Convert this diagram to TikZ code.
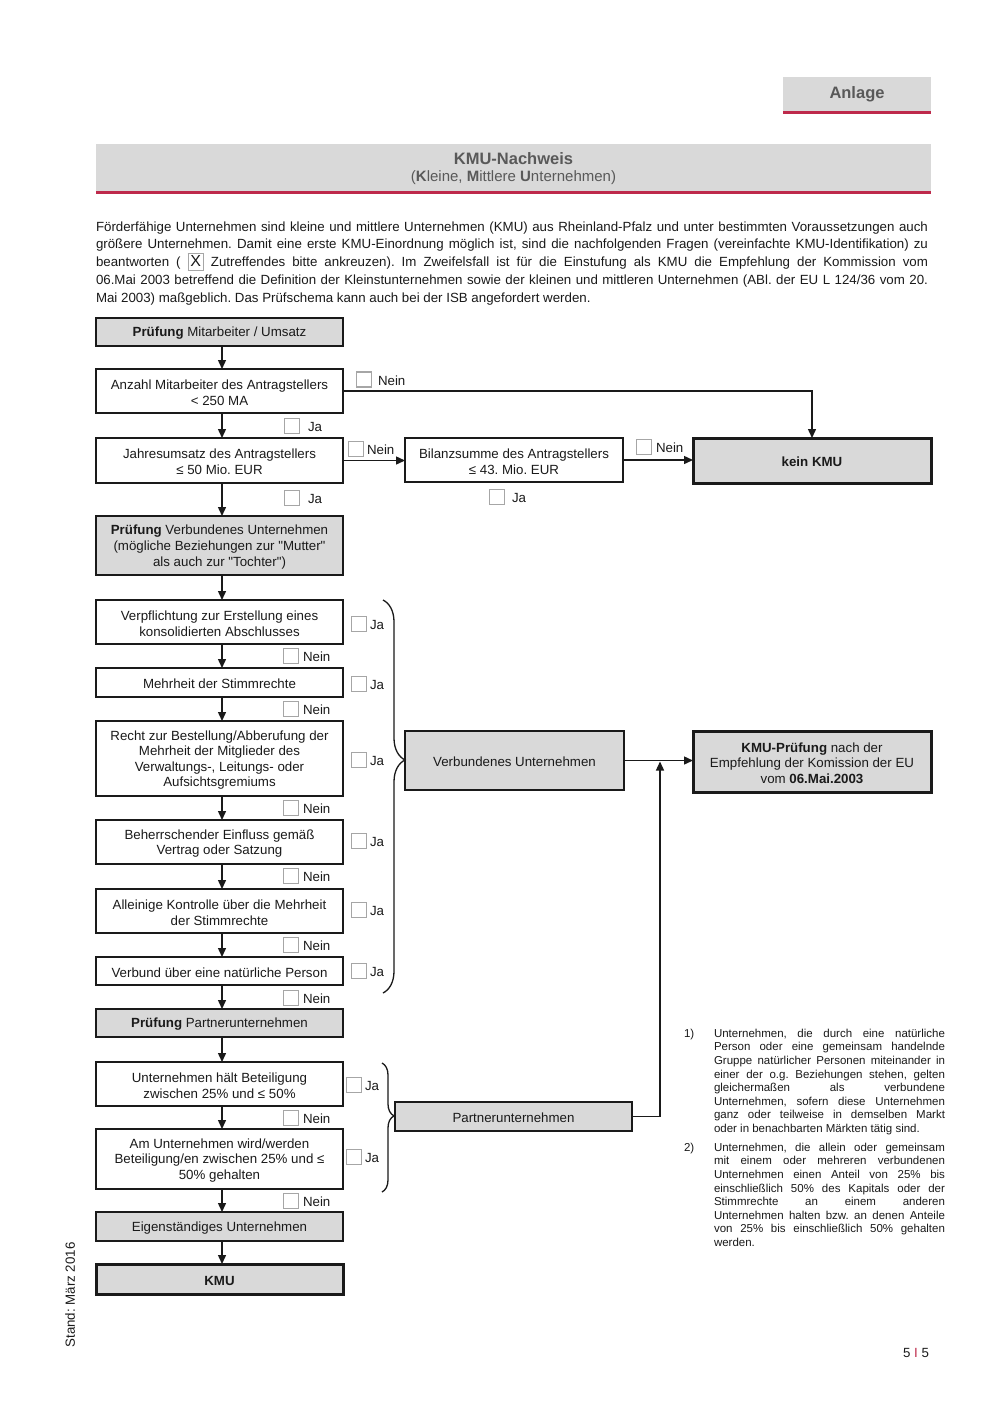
\documentclass[tikz,border=0pt]{standalone}
\usepackage{fontspec}
\setmainfont{Liberation Sans}[Ligatures=TeXOff]
\usetikzlibrary{arrows.meta,decorations.pathreplacing,calc}
\definecolor{boxfill}{HTML}{D9D9D9}
\definecolor{accent}{HTML}{BE2A4B}
\definecolor{titlegray}{HTML}{595959}
\definecolor{cbgray}{HTML}{A6A6A6}
\definecolor{ink}{HTML}{1A1A1A}
\newcommand\cbx[5]{\node[cb] (#1) at (#2,#3) {}; \node[lbl] (#1l) at (#4,#3+1) {#5};}
% box: name, style, x, y, width, height, text
\newcommand\bxn[7]{\node[#2, minimum width=#5pt, minimum height=#6pt] (#1) at (#3,#4) {}; \node[txt] (#1t) at (#3,#4+1.5) {#7};}
\newcommand\xbox{{\setlength{\fboxsep}{0.8pt}\setlength{\fboxrule}{1.3pt}\fcolorbox{cbgray}{white}{\rule[-2.5pt]{0pt}{14pt}\makebox[12pt]{\fontsize{16}{16}\selectfont X}}}}
\frenchspacing
\begin{document}
\begin{tikzpicture}[x=1pt,y=-1pt,
  every node/.style={inner sep=0pt, outer sep=0pt, text=ink},
  bx/.style={draw=ink, line width=1.5pt},
  gbx/.style={bx, fill=boxfill},
  tbx/.style={bx, fill=boxfill, line width=3pt},
  txt/.style={align=center, font=\fontsize{13.3}{15.6}\selectfont},
  cb/.style={draw=cbgray, line width=1.3pt, minimum size=15pt, fill=white},
  lbl/.style={anchor=west, font=\fontsize{13.3}{15.6}\selectfont},
  arr/.style={line width=1.4pt, draw=ink, -{Triangle[length=9pt,width=8pt]}},
  bra/.style={line width=1.3pt, draw=ink, decorate, decoration={brace, amplitude=22pt, aspect=0.407}},
  brb/.style={line width=1.3pt, draw=ink, decorate, decoration={brace, amplitude=12pt, aspect=0.41}}
]
\fill[white] (0,0) rectangle (1000,1414);
\useasboundingbox (0,0) rectangle (1000,1414);

% header
\node[fill=boxfill, minimum width=148pt, minimum height=35pt] (anl) at (857,94.5) {};
\node[font=\bfseries\fontsize{16.5}{18}\selectfont, text=titlegray] (anlt) at (857,94.5) {Anlage};
\draw[accent, line width=3pt] (anl.south west) -- (anl.south east);

\node[fill=boxfill, minimum width=835pt, minimum height=48pt] (tit) at (513.5,168) {};
\node[font=\bfseries\fontsize{16.5}{18}\selectfont, text=titlegray] (tit1) at (513.5,159) {KMU-Nachweis};
\node[font=\fontsize{15}{17}\selectfont, text=titlegray] (tit2) at (513.5,177.5) {(\textbf{K}leine, \textbf{M}ittlere \textbf{U}nternehmen)};
\draw[accent, line width=3pt] (tit.south west) -- (tit.south east);

% intro
\node[anchor=north west, text width=832pt, align=justify, font=\fontsize{13.3}{17.8}\selectfont] (intro) at (96,221.5) {Förderfähige Unternehmen sind kleine und mittlere Unternehmen (KMU) aus Rheinland-Pfalz und unter bestimmten Voraussetzungen auch\linebreak
größere Unternehmen. Damit eine erste KMU-Einordnung möglich ist, sind die nachfolgenden Fragen (vereinfachte KMU-Identifikation) zu\linebreak
beantworten ( \xbox{} Zutreffendes bitte ankreuzen). Im Zweifelsfall ist für die Einstufung als KMU die Empfehlung der Kommission vom\linebreak
06.Mai 2003 betreffend die Definition der Kleinstunternehmen sowie der kleinen und mittleren Unternehmen (ABl. der EU L 124/36 vom 20.\linebreak
Mai 2003) maßgeblich. Das Prüfschema kann auch bei der ISB angefordert werden.};

% left column
\bxn{p1}{gbx}{219.5}{332}{247}{28}{\textbf{Prüfung} Mitarbeiter / Umsatz}
\bxn{n2}{bx}{219.5}{391}{247}{44}{Anzahl Mitarbeiter des Antragstellers\\< 250 MA}
\bxn{n3}{bx}{219.5}{460.5}{247}{45}{Jahresumsatz des Antragstellers\\≤ 50 Mio. EUR}
\bxn{p2}{gbx}{219.5}{545.5}{247}{59}{\textbf{Prüfung} Verbundenes Unternehmen\\(mögliche Beziehungen zur "Mutter"\\als auch zur "Tochter")}
\bxn{n5}{bx}{219.5}{622}{247}{44}{Verpflichtung zur Erstellung eines\\konsolidierten Abschlusses}
\bxn{n6}{bx}{219.5}{682.5}{247}{29}{Mehrheit der Stimmrechte}
\bxn{n7}{bx}{219.5}{758.5}{247}{75}{Recht zur Bestellung/Abberufung der\\Mehrheit der Mitglieder des\\Verwaltungs-, Leitungs- oder\\Aufsichtsgremiums}
\bxn{n8}{bx}{219.5}{842}{247}{44}{Beherrschender Einfluss gemäß\\Vertrag oder Satzung}
\bxn{n9}{bx}{219.5}{911}{247}{44}{Alleinige Kontrolle über die Mehrheit\\der Stimmrechte}
\bxn{n10}{bx}{219.5}{971}{247}{28}{Verbund über eine natürliche Person}
\bxn{p3}{gbx}{219.5}{1023}{247}{28}{\textbf{Prüfung} Partnerunternehmen}
\bxn{n12}{bx}{219.5}{1084}{247}{44}{Unternehmen hält Beteiligung\\zwischen 25\% und ≤ 50\%}
\bxn{n13}{bx}{219.5}{1159}{247}{60}{Am Unternehmen wird/werden\\Beteiligung/en zwischen 25\% und ≤\\50\% gehalten}
\bxn{p4}{gbx}{219.5}{1226.5}{247}{29}{Eigenständiges Unternehmen}
\bxn{kmu}{tbx}{219.5}{1279}{247}{30}{\textbf{KMU}}

% right column
\bxn{bil}{bx}{514}{460}{218}{44}{Bilanzsumme des Antragstellers\\≤ 43. Mio. EUR}
\bxn{kein}{tbx}{812}{460.5}{238}{45}{\textbf{kein KMU}}
\bxn{verb}{gbx}{514.5}{760.5}{219}{59}{Verbundenes Unternehmen}
\bxn{pruef}{tbx}{812}{761.5}{238}{61}{\textbf{KMU-Prüfung} nach der\\Empfehlung der Komission der EU\\vom \textbf{06.Mai.2003}}
\bxn{partner}{gbx}{513.5}{1116.5}{237}{29}{Partnerunternehmen}

% arrows
\coordinate (ax) at (222,0);
\foreach \a/\b in {p1/n2, n2/n3, n3/p2, p2/n5, n5/n6, n6/n7, n7/n8, n8/n9, n9/n10, n10/p3, p3/n12, n12/n13, n13/p4, p4/kmu}
  \draw[arr] (\a.south -| ax) -- (\b.north -| ax);
\draw[arr] (n2.east) -| (kein.north);
\draw[arr] (n3.east) -- (n3.east -| bil.west);
\draw[arr] (bil.east) -- (bil.east -| kein.west);
\draw[arr] (verb.east) -- (verb.east -| pruef.west);
\coordinate (upend) at (660,761.5);
\draw[arr] (partner.east) -| (upend);

% braces
\coordinate (b1t) at (383,600); \coordinate (b1b) at (383,993);
\draw[bra] (b1t) -- (b1b);
\coordinate (b2t) at (382,1063); \coordinate (b2b) at (382,1192);
\draw[brb] (b2t) -- (b2b);

% checkboxes
\cbx{c1}{364}{379.5}{378}{Nein}
\cbx{c2}{292}{426}{308}{Ja}
\cbx{c3}{356}{449}{367}{Nein}
\cbx{c4}{292}{498}{308}{Ja}
\cbx{c5}{644}{447}{656}{Nein}
\cbx{c6}{497}{497}{512}{Ja}
\cbx{c7}{359}{624}{370}{Ja}
\cbx{c8}{291}{656}{303}{Nein}
\cbx{c9}{359}{684}{370}{Ja}
\cbx{c10}{291}{709}{303}{Nein}
\cbx{c11}{359}{760}{370}{Ja}
\cbx{c12}{291}{808}{303}{Nein}
\cbx{c13}{359}{841}{370}{Ja}
\cbx{c14}{291}{876}{303}{Nein}
\cbx{c15}{359}{910}{370}{Ja}
\cbx{c16}{291}{945}{303}{Nein}
\cbx{c17}{359}{971}{370}{Ja}
\cbx{c18}{291}{998}{303}{Nein}
\cbx{c19}{354}{1085}{365}{Ja}
\cbx{c20}{291}{1118}{303}{Nein}
\cbx{c21}{354}{1157}{365}{Ja}
\cbx{c22}{291}{1201}{303}{Nein}

% footnotes
\node[anchor=north west, font=\fontsize{11.5}{13.6}\selectfont] (f1n) at (684,1029) {1)};
\node[anchor=north west, text width=231pt, align=justify, font=\fontsize{11.5}{13.6}\selectfont] (f1) at (714,1029) {Unternehmen, die durch eine natürliche\linebreak
Person oder eine gemeinsam handelnde\linebreak
Gruppe natürlicher Personen miteinander in\linebreak
einer der o.g. Beziehungen stehen, gelten\linebreak
gleichermaßen als verbundene\linebreak
Unternehmen, sofern diese Unternehmen\linebreak
ganz oder teilweise in demselben Markt\linebreak
oder in benachbarten Märkten tätig sind.};
\node[anchor=north west, font=\fontsize{11.5}{13.6}\selectfont] (f2n) at (684,1143) {2)};
\node[anchor=north west, text width=231pt, align=justify, font=\fontsize{11.5}{13.6}\selectfont] (f2) at (714,1143) {Unternehmen, die allein oder gemeinsam\linebreak
mit einem oder mehreren verbundenen\linebreak
Unternehmen einen Anteil von 25\% bis\linebreak
einschließlich 50\% des Kapitals oder der\linebreak
Stimmrechte an einem anderen\linebreak
Unternehmen halten bzw. an denen Anteile\linebreak
von 25\% bis einschließlich 50\% gehalten\linebreak
werden.};

% side and page
\node[rotate=90, font=\fontsize{13.3}{15}\selectfont] (stand) at (70,1295) {Stand: März 2016};
\node[anchor=east, font=\fontsize{13.3}{15}\selectfont] (pg) at (929,1353) {5 \textcolor{accent}{I} 5};
\end{tikzpicture}
\end{document}
